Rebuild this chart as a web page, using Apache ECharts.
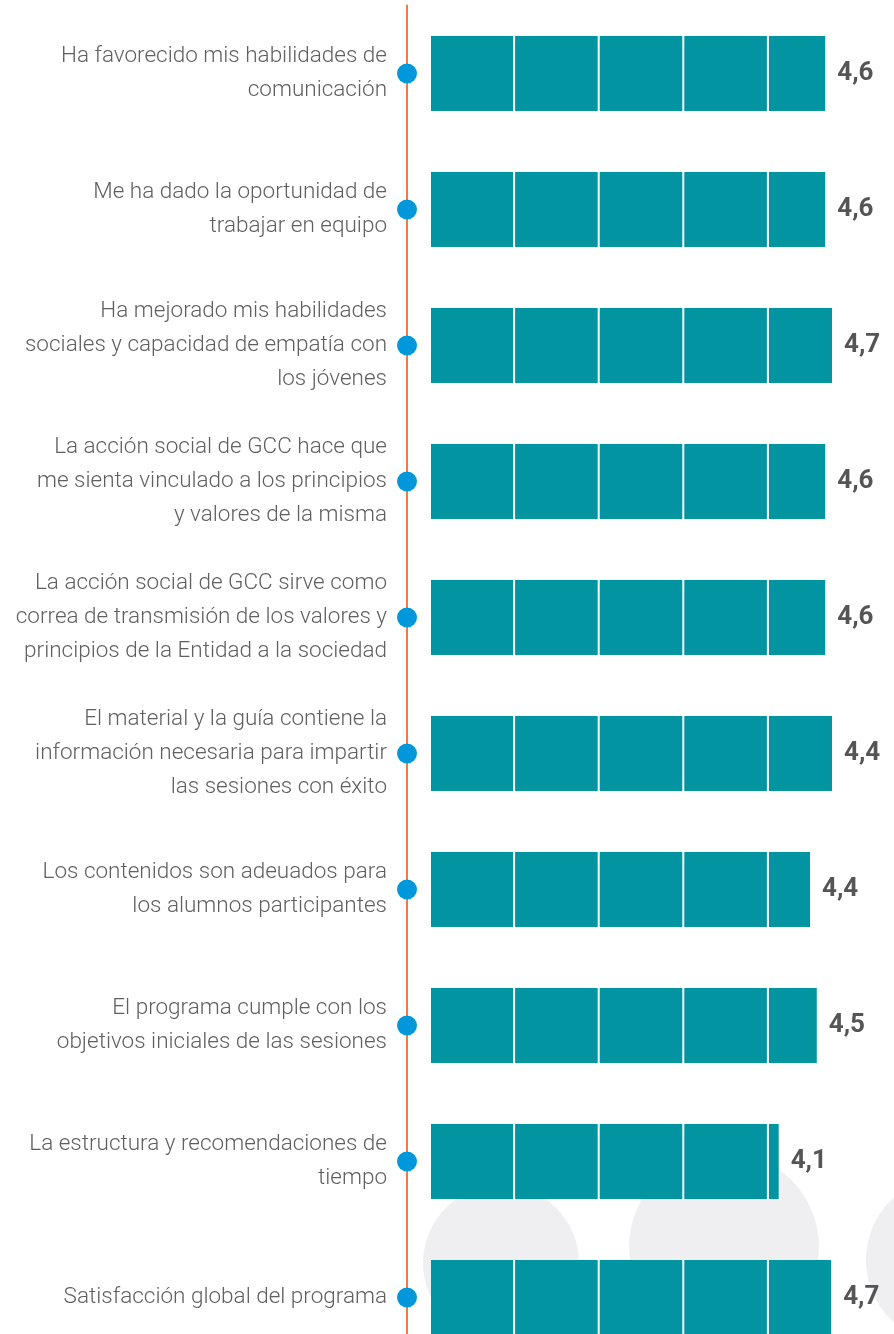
<!DOCTYPE html>
<html>
<head>
<meta charset="utf-8">
<script src="https://cdn.jsdelivr.net/npm/echarts@6/dist/echarts.min.js"></script>
<style>
  html, body { margin: 0; padding: 0; background: #fff; }
  #chart { width: 894px; height: 1334px; }
</style>
</head>
<body>
<div id="chart"></div>
<script>
// categorias (de arriba a abajo)
const categories = [
  "Ha favorecido mis habilidades de\ncomunicación",
  "Me ha dado la oportunidad de\ntrabajar en equipo",
  "Ha mejorado mis habilidades\nsociales y capacidad de empatía con\nlos jóvenes",
  "La acción social de GCC hace que\nme sienta vinculado a los principios\ny valores de la misma",
  "La acción social de GCC sirve como\ncorrea de transmisión de los valores y\nprincipios de la Entidad a la sociedad",
  "El material y la guía contiene la\ninformación necesaria para impartir\nlas sesiones con éxito",
  "Los contenidos son adeuados para\nlos alumnos participantes",
  "El programa cumple con los\nobjetivos iniciales de las sesiones",
  "La estructura y recomendaciones de\ntiempo",
  "Satisfacción global del programa"
];
// puntuación impresa junto a cada barra
const scores = [4.6, 4.6, 4.7, 4.6, 4.6, 4.4, 4.4, 4.5, 4.1, 4.7];
// longitud de barra tal como aparece dibujada
const barLengths = [4.66, 4.66, 4.74, 4.66, 4.66, 4.74, 4.48, 4.56, 4.11, 4.73];
// divisiones blancas dentro de cada barra
const dividers = [1, 2, 3, 4];

const TEAL = "#0295a1";
const BAR_H = 75;
const FONT = "Roboto, 'Liberation Sans Narrow', sans-serif";

const chart = echarts.init(document.getElementById("chart"), null, { renderer: "canvas" });

const option = {
  animation: false,
  backgroundColor: "#ffffff",
  graphic: [
    { type: "circle", z: -10, shape: { cx: 501, cy: 1263, r: 78 }, style: { fill: "#efeff1" } },
    { type: "circle", z: -10, shape: { cx: 724, cy: 1247, r: 95 }, style: { fill: "#efeff1" } },
    { type: "circle", z: -10, shape: { cx: 950, cy: 1260, r: 84 }, style: { fill: "#efeff1" } }
  ],
  grid: {
    left: 431,
    right: 40,
    top: 5.5,
    bottom: -31.5,
    containLabel: false,
    outerBoundsMode: "none"
  },
  xAxis: {
    type: "value",
    min: 0,
    max: 5,
    show: false
  },
  yAxis: {
    type: "category",
    inverse: true,
    data: categories,
    offset: 24,
    axisLine: { show: true, onZero: false, lineStyle: { color: "#f47b3a", width: 2 } },
    axisTick: { show: false },
    axisLabel: {
      margin: 20,
      fontFamily: FONT,
      fontWeight: 300,
      fontSize: 22.5,
      lineHeight: 34,
      color: "#606060",
      align: "right"
    }
  },
  series: [
    {
      type: "bar",
      data: barLengths,
      barWidth: BAR_H,
      itemStyle: { color: TEAL },
      label: {
        show: true,
        position: "right",
        distance: 12,
        fontFamily: FONT,
        fontWeight: "bold",
        fontSize: 26,
        color: "#555555",
        formatter: (p) => scores[p.dataIndex].toFixed(1).replace(".", ",")
      },
      z: 2
    },
    {
      type: "custom",
      clip: false,
      z: 5,
      data: barLengths.map((v, i) => [v, i]),
      renderItem: (params, api) => {
        const v = api.value(0);
        const i = api.value(1);
        const children = [];
        dividers.forEach((k) => {
          if (k < v) {
            const p = api.coord([k, i]);
            const x = p[0] - 1.5;
            children.push({
              type: "line",
              shape: { x1: x, y1: p[1] - BAR_H / 2, x2: x, y2: p[1] + BAR_H / 2 },
              style: { stroke: "#ffffff", lineWidth: 2 }
            });
          }
        });
        // punto azul sobre la línea naranja
        const c = api.coord([0, i]);
        children.push({
          type: "circle",
          shape: { cx: c[0] - 24, cy: c[1], r: 10 },
          style: { fill: "#0098db" }
        });
        return { type: "group", children: children };
      }
    }
  ]
};

chart.setOption(option);
</script>
</body>
</html>
